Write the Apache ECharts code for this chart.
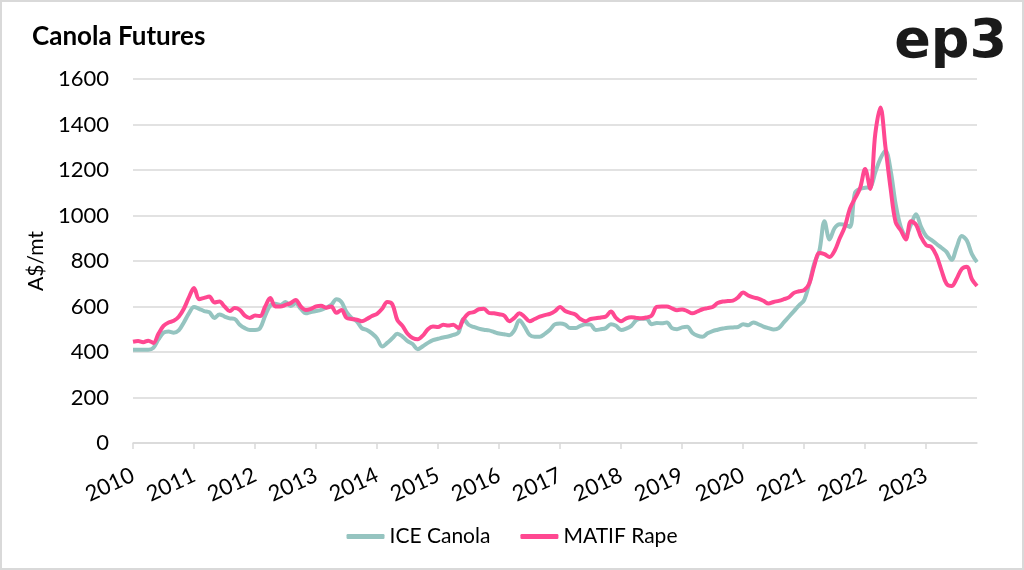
<!DOCTYPE html>
<html>
<head>
<meta charset="utf-8">
<script src="https://cdn.jsdelivr.net/npm/echarts@6/dist/echarts.min.js"></script>
<style>
html,body{margin:0;padding:0;background:#fff;}
#chart{width:1024px;height:570px;}
</style>
</head>
<body>
<div id="chart"></div>
<script>
// Tick labels (years) – one category per month from Jan 2010 to Nov 2023
const years = ['2010','2011','2012','2013','2014','2015','2016','2017','2018','2019','2020','2021','2022','2023'];
const monthsInLastYear = 11;

// ICE Canola (A$/mt), monthly
const iceCanola = [
  410, 410, 410, 410, 418, 455, 485, 490, 485, 495, 530, 570,
  598, 590, 580, 575, 550, 565, 556, 548, 545, 520, 505, 497,
  497, 505, 560, 605, 612, 607, 620, 602, 614, 590, 570, 576,
  580, 585, 595, 607, 632, 620, 575, 550, 535, 505, 497, 482,
  460, 424, 440, 460, 480, 468, 448, 435, 412, 425, 440, 452,
  458, 464, 468, 475, 485, 545, 520, 510, 503, 498, 495, 488,
  481, 478, 474, 495, 540, 512, 475, 467, 467, 480, 498, 522,
  525, 520, 505, 505, 515, 522, 520, 497, 500, 505, 522, 515,
  497, 503, 515, 540, 546, 546, 522, 528, 526, 530, 505, 500,
  508, 511, 485, 472, 467, 482, 492, 498, 503, 507, 508, 510,
  522, 518, 530, 522, 512, 505, 499, 505, 530, 555, 580, 605,
  628, 700, 790, 845, 975, 895, 945, 962, 960, 950, 1100, 1117,
  1122, 1125, 1190, 1250, 1285, 1200, 1050, 950, 910, 960, 1005, 950,
  910, 893, 876, 858, 840, 805, 860, 910, 890, 830, 795
];

// MATIF Rape (A$/mt), monthly
const matifRape = [
  445, 448, 443, 450, 440, 480, 515, 530, 537, 555, 590, 640,
  681, 632, 638, 644, 618, 622, 600, 580, 593, 585, 560, 550,
  560, 558, 600, 637, 600, 600, 607, 615, 629, 600, 585, 590,
  600, 603, 595, 600, 572, 585, 550, 545, 542, 535, 545, 558,
  568, 590, 620, 610, 540, 515, 480, 462, 456, 472, 500, 512,
  510, 520, 516, 520, 505, 545, 570, 575, 588, 590, 572, 570,
  566, 560, 535, 550, 570, 555, 535, 545, 555, 562, 568, 580,
  598, 580, 572, 565, 545, 535, 545, 548, 552, 556, 578, 550,
  535, 548, 553, 550, 548, 552, 560, 598, 600, 600, 592, 584,
  587, 580, 570, 578, 588, 593, 598, 615, 622, 624, 626, 640,
  662, 648, 640, 635, 625, 613, 620, 625, 632, 640, 660, 667,
  672, 700, 780, 835, 830, 818, 845, 900, 950, 1030, 1075, 1120,
  1204, 1117, 1360, 1475, 1300, 1120, 970, 935, 895, 975, 960, 905,
  870, 862, 825, 760, 700, 690, 722, 765, 775, 720, 690
];

const seriesNames = ['ICE Canola', 'MATIF Rape'];

// Build month categories from the year list
const categories = [];
years.forEach((y, i) => {
  const n = (i === years.length - 1) ? monthsInLastYear : 12;
  for (let m = 1; m <= n; m++) categories.push(y + '-' + (m < 10 ? '0' + m : m));
});

const FONT = 'Lato';
const chart = echarts.init(document.getElementById('chart'), null, {renderer: 'canvas'});
chart.setOption({
  backgroundColor: '#ffffff',
  animation: false,
  title: {
    text: 'Canola Futures',
    left: 27, top: 19,
    textStyle: {fontFamily: FONT, fontWeight: 'bold', fontSize: 26, color: '#000000'}
  },
  graphic: [
    {type: 'rect', silent: true, shape: {x: 1, y: 1, width: 1022, height: 568},
     style: {fill: 'none', stroke: '#d9d9d9', lineWidth: 2}},
    {type: 'text', right: 17, top: 16, silent: true,
     style: {text: 'ep3', fontFamily: 'DejaVu Sans', fontWeight: 'bold', fontSize: 54, fill: '#1a1a1a', letterSpacing: -6}}
  ],
  legend: {
    data: seriesNames,
    bottom: 18, left: 'center',
    icon: 'roundRect',
    itemWidth: 38, itemHeight: 5, itemGap: 30,
    textStyle: {fontFamily: FONT, fontSize: 21, color: '#000000'}
  },
  grid: {left: 133, right: 47, top: 79, bottom: 127, containLabel: false},
  xAxis: {
    type: 'category',
    data: categories,
    boundaryGap: false,
    axisLine: {show: true, lineStyle: {color: '#d9d9d9', width: 1.5}},
    axisTick: {show: true, length: 6, interval: (idx) => idx % 12 === 0, lineStyle: {color: '#d9d9d9', width: 1.5}},
    axisLabel: {
      interval: (idx) => idx % 12 === 0,
      rotate: 25,
      margin: 31,
      formatter: (v) => v.slice(0, 4),
      fontFamily: FONT, fontSize: 22, color: '#000000'
    },
    splitLine: {show: false}
  },
  yAxis: {
    type: 'value',
    min: 0, max: 1600, interval: 200,
    name: 'A$/mt',
    nameLocation: 'middle',
    nameGap: 74,
    nameTextStyle: {fontFamily: FONT, fontSize: 21, color: '#000000'},
    axisLine: {show: false},
    axisTick: {show: false},
    axisLabel: {margin: 24, fontFamily: FONT, fontSize: 22, color: '#000000', formatter: (v) => String(v)},
    splitLine: {lineStyle: {color: '#d9d9d9', width: 1.5}}
  },
  series: [
    {name: seriesNames[0], type: 'line', data: iceCanola, smooth: 0.35, showSymbol: false,
     lineStyle: {color: '#95c4c0', width: 4}, itemStyle: {color: '#95c4c0'}},
    {name: seriesNames[1], type: 'line', data: matifRape, smooth: 0.35, showSymbol: false,
     lineStyle: {color: '#ff4891', width: 4}, itemStyle: {color: '#ff4891'}}
  ]
});
</script>
</body>
</html>
